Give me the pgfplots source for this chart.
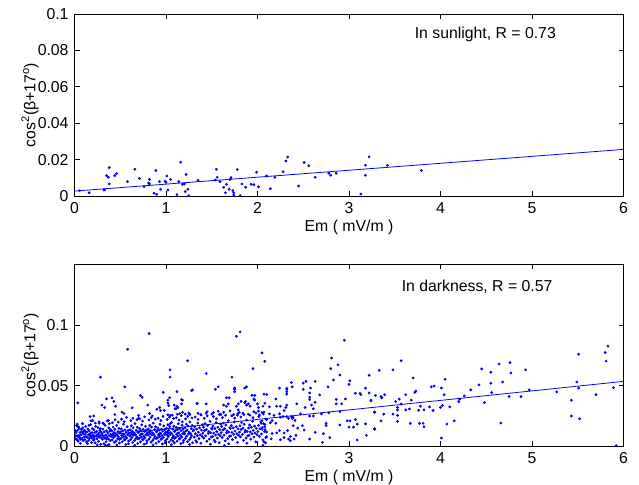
\documentclass[border=0pt]{standalone}
\usepackage{fontspec}
\setmainfont{Liberation Sans}
\usepackage{pgfplots}
\pgfplotsset{compat=1.18}
\begin{document}
\fontsize{15.8bp}{18bp}\selectfont
\begin{tikzpicture}
\useasboundingbox (0,0) rectangle (639bp,485bp);
\pgfplotsset{
  every axis/.append style={
    scale only axis, width=549bp, height=182bp,
    xmin=0, xmax=6, xtick={0,1,2,3,4,5,6},
    xticklabels={0,1,2,3,4,5,6},
    scaled x ticks=false, scaled y ticks=false,
    tick align=inside, major tick length=5bp,
    axis line style={line width=0.8bp},
    every tick/.style={line width=0.8bp, black},
    tick label style={font=\fontsize{15.8bp}{18bp}\selectfont},
    xticklabel style={yshift=-1bp},
    yticklabel style={xshift=-0.5bp},
    every axis x label/.style={at={(axis description cs:0.5,-0.195)}, anchor=base},
    every axis y label/.style={at={(axis description cs:-0.081,0.5)}, rotate=90, anchor=center},
    xlabel={Em ( mV/m )},
    ylabel={cos\textsuperscript{2}(β+17\textsuperscript{o})},
    clip=false,
  },
  dots/.style={only marks, mark=*, mark size=1.2bp, color=blue, mark options={draw=none, fill=blue}},
  fitline/.style={blue, line width=0.8bp, no marks},
}
% ---------------- top: sunlight ----------------
\begin{axis}[at={(74.5bp,289bp)}, anchor=south west,
  ymin=0, ymax=0.1, ytick={0,0.02,0.04,0.06,0.08,0.1},
  yticklabels={0,0.02,0.04,0.06,0.08,0.1}]
\addplot[dots] coordinates {
(0.055,0.0029)(0.16,0.0018)(0.32,0.0033)(0.33,0.0034)(0.35,0.0112)(0.37,0.0103)(0.38,0.0156)(0.38,0.0066)
(0.44,0.0112)(0.46,0.0123)(0.58,0.0079)(0.66,0.0147)(0.71,0.0097)(0.76,0.0052)(0.81,0.0072)(0.82,0.0066)
(0.82,0.0091)(0.87,0.0015)(0.89,0.0140)(0.90,0.0009)(0.94,0.0037)(0.93,0.0079)(1.00,0.0075)(0.99,0.0082)
(1.01,0.0110)(1.02,0.0033)(1.05,0.0091)(1.12,0.0007)(1.14,0.0079)(1.16,0.0186)(1.18,0.0064)(1.20,0.0066)
(1.22,0.0118)(1.21,0.0024)(1.24,0.0037)(1.25,0.0002)(1.35,0.0086)(1.54,0.0088)(1.55,0.0147)(1.56,0.0103)
(1.59,0.0079)(1.63,0.0048)(1.65,0.0018)(1.66,0.0064)(1.69,0.0037)(1.70,0.0091)(1.71,0.0101)(1.73,0.0030)
(1.74,0.0018)(1.74,0.0006)(1.78,0.0145)(1.81,0.0002)(1.83,0.0066)(1.87,0.0048)(1.93,0.0064)(1.96,0.0062)
(1.99,0.0131)(2.01,0.0050)(2.10,0.0110)(2.14,0.0040)(2.19,0.0103)(2.28,0.0133)(2.31,0.0192)(2.33,0.0214)
(2.45,0.0055)(2.51,0.0184)(2.56,0.0166)(2.63,0.0103)(2.78,0.0125)(2.80,0.0114)(2.86,0.0125)(3.13,0.0011)
(3.18,0.0169)(3.18,0.0114)(3.22,0.0215)(3.42,0.0168)(3.79,0.0140)
};
\addplot[fitline] coordinates {(0,0.0027)(6,0.0256)};
\node[anchor=center] at (axis cs:4.49,0.089) {In sunlight, R = 0.73};
\end{axis}
% ---------------- bottom: darkness ----------------
\begin{axis}[at={(74.5bp,38.7bp)}, anchor=south west,
  ymin=0, ymax=0.15, ytick={0,0.05,0.1},
  yticklabels={0,0.05,0.1}]
\addplot[dots] coordinates {
(0.012,0.0062)(0.018,0.0113)(0.023,0.0171)(0.031,0.0084)(0.034,0.0132)(0.041,0.0043)(0.045,0.0091)(0.052,0.0148)(0.056,0.0072)(0.061,0.0114)(0.064,0.0024)(0.071,0.0093)(0.075,0.0139)(0.083,0.0061)(0.086,0.0187)(0.092,0.0102)(0.095,0.0047)(0.098,0.0121)(0.008,0.0129)(0.044,0.0161)(0.067,0.0058)(0.081,0.0118)(0.027,0.0053)(0.089,0.0152)(0.015,0.0088)
(0.104,0.0077)(0.108,0.0132)(0.113,0.0055)(0.117,0.0101)(0.122,0.0163)(0.126,0.0082)(0.131,0.0036)(0.135,0.0118)(0.141,0.0071)(0.146,0.0142)(0.152,0.0095)(0.155,0.0049)(0.161,0.0127)(0.166,0.0066)(0.172,0.0104)(0.175,0.0179)(0.181,0.0085)(0.186,0.0031)(0.191,0.0113)(0.196,0.0145)(0.143,0.0022)(0.158,0.0172)(0.169,0.0091)(0.123,0.0119)(0.188,0.0068)
(0.203,0.0093)(0.207,0.0051)(0.212,0.0137)(0.216,0.0078)(0.221,0.0112)(0.226,0.0029)(0.231,0.0164)(0.236,0.0087)(0.241,0.0122)(0.245,0.0063)(0.251,0.0099)(0.256,0.0154)(0.262,0.0041)(0.266,0.0108)(0.271,0.0075)(0.276,0.0131)(0.281,0.0089)(0.286,0.0016)(0.291,0.0117)(0.296,0.0069)(0.228,0.0191)(0.248,0.0012)(0.268,0.0201)(0.283,0.0146)(0.214,0.0058)(0.259,0.0081)
(0.302,0.0104)(0.306,0.0058)(0.311,0.0141)(0.315,0.0083)(0.321,0.0021)(0.325,0.0119)(0.331,0.0067)(0.334,0.0173)(0.341,0.0092)(0.345,0.0038)(0.351,0.0128)(0.355,0.0076)(0.361,0.0005)(0.364,0.0111)(0.371,0.0059)(0.375,0.0152)(0.381,0.0087)(0.385,0.0124)(0.391,0.0046)(0.396,0.0098)(0.318,0.0186)(0.338,0.0009)(0.358,0.0209)(0.378,0.0014)(0.348,0.0063)(0.393,0.0137)
(0.403,0.0081)(0.408,0.0126)(0.412,0.0052)(0.417,0.0097)(0.422,0.0158)(0.427,0.0071)(0.431,0.0113)(0.436,0.0033)(0.441,0.0139)(0.446,0.0085)(0.452,0.0106)(0.456,0.0044)(0.461,0.0172)(0.466,0.0093)(0.471,0.0062)(0.475,0.0121)(0.481,0.0078)(0.486,0.0148)(0.491,0.0027)(0.496,0.0109)(0.414,0.0194)(0.444,0.0218)(0.463,0.0011)(0.478,0.0199)(0.425,0.0089)(0.488,0.0057)
(0.502,0.0118)(0.507,0.0064)(0.511,0.0143)(0.516,0.0089)(0.521,0.0037)(0.526,0.0126)(0.531,0.0075)(0.535,0.0182)(0.541,0.0099)(0.546,0.0052)(0.551,0.0135)(0.556,0.0081)(0.561,0.0014)(0.565,0.0117)(0.571,0.0068)(0.576,0.0161)(0.581,0.0094)(0.586,0.0131)(0.591,0.0043)(0.596,0.0108)(0.513,0.0224)(0.543,0.0203)(0.568,0.0238)(0.588,0.0021)(0.528,0.0097)(0.553,0.0058)
(0.603,0.0086)(0.608,0.0137)(0.612,0.0055)(0.617,0.0112)(0.622,0.0169)(0.627,0.0073)(0.632,0.0124)(0.636,0.0031)(0.641,0.0152)(0.646,0.0091)(0.651,0.0108)(0.656,0.0047)(0.662,0.0187)(0.666,0.0096)(0.671,0.0064)(0.676,0.0133)(0.681,0.0079)(0.686,0.0157)(0.691,0.0023)(0.696,0.0114)(0.615,0.0211)(0.638,0.0232)(0.658,0.0008)(0.683,0.0219)(0.624,0.0099)(0.693,0.0061)
(0.702,0.0121)(0.707,0.0067)(0.712,0.0146)(0.716,0.0092)(0.721,0.0036)(0.726,0.0129)(0.731,0.0077)(0.735,0.0176)(0.741,0.0103)(0.745,0.0054)(0.751,0.0139)(0.756,0.0084)(0.761,0.0017)(0.765,0.0122)(0.771,0.0071)(0.776,0.0164)(0.781,0.0096)(0.786,0.0134)(0.791,0.0045)(0.796,0.0111)(0.713,0.0227)(0.744,0.0208)(0.767,0.0243)(0.788,0.0026)(0.728,0.0101)(0.753,0.0059)
(0.803,0.0092)(0.807,0.0143)(0.812,0.0058)(0.817,0.0117)(0.822,0.0173)(0.826,0.0076)(0.831,0.0128)(0.836,0.0034)(0.841,0.0158)(0.846,0.0094)(0.851,0.0111)(0.856,0.0049)(0.861,0.0191)(0.866,0.0099)(0.871,0.0066)(0.876,0.0138)(0.881,0.0082)(0.886,0.0161)(0.891,0.0025)(0.896,0.0118)(0.814,0.0217)(0.838,0.0236)(0.858,0.0011)(0.883,0.0224)(0.824,0.0104)(0.893,0.0063)
(0.902,0.0126)(0.907,0.0069)(0.912,0.0151)(0.916,0.0095)(0.921,0.0039)(0.926,0.0133)(0.931,0.0081)(0.935,0.0181)(0.941,0.0107)(0.945,0.0057)(0.951,0.0142)(0.956,0.0088)(0.961,0.0019)(0.965,0.0125)(0.971,0.0074)(0.976,0.0168)(0.981,0.0099)(0.986,0.0137)(0.991,0.0047)(0.996,0.0114)(0.913,0.0231)(0.944,0.0212)(0.967,0.0247)(0.988,0.0028)(0.928,0.0104)(0.953,0.0062)
(1.002,0.0097)(1.006,0.0148)(1.011,0.0061)(1.015,0.0121)(1.021,0.0178)(1.025,0.0079)(1.031,0.0131)(1.034,0.0036)(1.041,0.0162)(1.045,0.0097)(1.051,0.0114)(1.055,0.0052)(1.061,0.0196)(1.065,0.0103)(1.071,0.0069)(1.075,0.0141)(1.081,0.0085)(1.085,0.0166)(1.091,0.0027)(1.095,0.0122)(1.013,0.0221)(1.038,0.0241)(1.058,0.0013)(1.083,0.0229)(1.023,0.0108)(1.093,0.0066)(1.047,0.0187)(1.068,0.0256)(1.078,0.0041)(1.017,0.0089)
(1.102,0.0131)(1.107,0.0073)(1.112,0.0156)(1.116,0.0099)(1.121,0.0042)(1.126,0.0138)(1.131,0.0084)(1.135,0.0186)(1.141,0.0111)(1.145,0.0059)(1.151,0.0147)(1.156,0.0091)(1.161,0.0022)(1.165,0.0129)(1.171,0.0077)(1.176,0.0173)(1.181,0.0103)(1.186,0.0142)(1.191,0.0049)(1.196,0.0118)(1.113,0.0236)(1.144,0.0217)(1.167,0.0252)(1.188,0.0031)(1.128,0.0108)(1.153,0.0066)(1.178,0.0201)(1.123,0.0264)
(1.203,0.0102)(1.207,0.0153)(1.212,0.0064)(1.217,0.0125)(1.222,0.0182)(1.226,0.0083)(1.231,0.0135)(1.236,0.0038)(1.241,0.0167)(1.246,0.0101)(1.251,0.0118)(1.256,0.0055)(1.261,0.0201)(1.266,0.0107)(1.271,0.0072)(1.276,0.0145)(1.281,0.0089)(1.286,0.0171)(1.291,0.0029)(1.296,0.0126)(1.214,0.0226)(1.238,0.0246)(1.258,0.0015)(1.283,0.0234)
(1.303,0.0136)(1.309,0.0076)(1.314,0.0161)(1.321,0.0104)(1.327,0.0046)(1.334,0.0142)(1.341,0.0088)(1.347,0.0191)(1.354,0.0116)(1.361,0.0063)(1.367,0.0152)(1.374,0.0095)(1.381,0.0025)(1.387,0.0133)(1.394,0.0081)(1.398,0.0178)(1.318,0.0241)(1.351,0.0222)(1.384,0.0258)(1.337,0.0034)
(1.403,0.0107)(1.409,0.0158)(1.414,0.0068)(1.421,0.0129)(1.427,0.0187)(1.434,0.0087)(1.441,0.0139)(1.447,0.0041)(1.454,0.0171)(1.461,0.0106)(1.467,0.0122)(1.474,0.0059)(1.481,0.0206)(1.487,0.0112)(1.494,0.0076)(1.498,0.0149)(1.418,0.0231)(1.451,0.0251)(1.484,0.0017)(1.438,0.0272)
(1.503,0.0141)(1.509,0.0081)(1.514,0.0166)(1.521,0.0109)(1.527,0.0051)(1.534,0.0147)(1.541,0.0093)(1.547,0.0196)(1.554,0.0121)(1.561,0.0068)(1.567,0.0157)(1.574,0.0099)(1.581,0.0029)(1.587,0.0138)(1.594,0.0086)(1.598,0.0183)(1.518,0.0246)(1.551,0.0227)(1.584,0.0263)(1.537,0.0038)
(1.603,0.0112)(1.609,0.0163)(1.614,0.0072)(1.621,0.0134)(1.627,0.0191)(1.634,0.0092)(1.641,0.0144)(1.647,0.0045)(1.654,0.0176)(1.661,0.0111)(1.667,0.0127)(1.674,0.0063)(1.681,0.0211)(1.687,0.0117)(1.694,0.0081)(1.698,0.0154)(1.618,0.0236)(1.651,0.0256)(1.684,0.0021)(1.638,0.0007)
(1.703,0.0146)(1.709,0.0086)(1.714,0.0171)(1.721,0.0114)(1.727,0.0055)(1.734,0.0152)(1.741,0.0098)(1.747,0.0201)(1.754,0.0126)(1.761,0.0072)(1.767,0.0162)(1.774,0.0104)(1.781,0.0033)(1.787,0.0143)(1.794,0.0091)(1.718,0.0251)(1.751,0.0232)(1.784,0.0268)
(1.803,0.0117)(1.809,0.0168)(1.814,0.0077)(1.821,0.0139)(1.827,0.0196)(1.834,0.0097)(1.841,0.0149)(1.847,0.0049)(1.854,0.0181)(1.861,0.0116)(1.867,0.0132)(1.874,0.0067)(1.881,0.0216)(1.887,0.0122)(1.894,0.0086)(1.818,0.0241)(1.851,0.0261)(1.884,0.0025)
(1.903,0.0151)(1.909,0.0091)(1.914,0.0176)(1.921,0.0119)(1.927,0.0059)(1.934,0.0157)(1.941,0.0103)(1.947,0.0206)(1.954,0.0131)(1.961,0.0076)(1.967,0.0167)(1.974,0.0109)(1.981,0.0037)(1.987,0.0148)(1.994,0.0096)(1.918,0.0256)(1.951,0.0237)(1.984,0.0273)
(2.003,0.0122)(2.011,0.0173)(2.019,0.0082)(2.027,0.0144)(2.035,0.0201)(2.043,0.0102)(2.051,0.0154)(2.059,0.0053)(2.067,0.0186)(2.075,0.0121)(2.083,0.0137)(2.091,0.0071)(2.099,0.0221)(2.015,0.0246)(2.063,0.0266)(2.087,0.0028)
(0.036,0.0358)(0.35,0.0391)(0.41,0.0400)(0.43,0.037)(0.30,0.0340)(0.33,0.0320)(0.52,0.0282)(0.54,0.0271)(0.44,0.0262)(0.97,0.0445)(1.02,0.0380)(1.02,0.0357)(1.03,0.0336)(0.72,0.0418)(0.74,0.0404)(0.80,0.0340)(0.63,0.0317)(0.82,0.0270)(0.85,0.0250)(0.94,0.0296)(0.98,0.0296)(0.18,0.0210)(0.20,0.0212)(0.09,0.0186)(0.03,0.0183)(0.03,0.0164)(0.27,0.0190)(0.31,0.0192)(0.37,0.0213)(0.38,0.0186)(0.70,0.0254)(0.70,0.0230)(0.17,0.0245)(0.21,0.0250)(0.45,0.0330)(0.90,0.0305)(0.93,0.0320)(1.10,0.0310)(1.12,0.0330)(1.17,0.0385)(1.18,0.0380)(1.28,0.0460)(1.34,0.0350)(1.44,0.0350)(1.63,0.0340)(1.66,0.0400)(1.66,0.0330)(1.75,0.0470)(1.75,0.0450)(1.79,0.0350)(1.82,0.0370)(1.90,0.0350)(1.92,0.0330)(1.97,0.0420)(2.01,0.0320)(2.06,0.0330)(1.04,0.0400)(1.12,0.0450)(1.09,0.0340)(1.11,0.0310)(1.13,0.0320)(1.17,0.0350)(1.34,0.0355)(1.68,0.0350)(1.69,0.0400)(1.77,0.0330)(1.79,0.0300)(1.80,0.0280)(1.86,0.0360)(1.87,0.0370)(1.88,0.0340)(1.94,0.0420)(1.96,0.0390)(1.97,0.0380)(2.00,0.0350)(2.01,0.0290)(2.07,0.0430)(1.02,0.0260)(1.05,0.0255)(1.15,0.0270)(1.18,0.0280)(1.21,0.0265)(1.25,0.0275)(1.26,0.0262)(1.35,0.0272)(1.38,0.0262)(1.45,0.0285)(1.50,0.0266)(1.52,0.0278)(1.57,0.0290)(1.60,0.0262)(1.63,0.0280)(1.70,0.0292)(1.74,0.0262)(1.78,0.0255)(1.84,0.0272)(1.90,0.0265)(1.96,0.0285)(2.02,0.0258)
(2.10,0.0426)(2.08,0.0355)(2.20,0.0390)(2.32,0.0470)(2.32,0.0450)(2.32,0.0430)(2.57,0.0440)(2.57,0.0405)(2.57,0.0385)(2.59,0.0340)(2.61,0.0310)(2.63,0.0363)(2.68,0.0423)(2.86,0.0387)(2.86,0.0350)(2.92,0.0350)(2.96,0.0390)(3.07,0.0437)(3.12,0.0437)(3.13,0.0426)(3.22,0.0440)(3.24,0.0375)(3.28,0.0282)(2.43,0.0350)(2.52,0.0320)(2.70,0.0267)(2.78,0.0276)(2.90,0.0286)(2.98,0.0210)(3.01,0.0210)(3.07,0.0220)(3.09,0.0183)(3.00,0.0158)(3.05,0.0158)(3.18,0.0185)(3.28,0.0140)(3.09,0.0052)(3.19,0.0090)(2.90,0.0175)(2.75,0.0190)(2.75,0.0172)(2.63,0.0115)(2.72,0.0104)(2.79,0.0071)(2.71,0.0033)(2.57,0.0250)(2.57,0.0060)(2.61,0.0250)(2.47,0.0267)(2.39,0.0240)(2.41,0.0213)(2.39,0.0170)(2.44,0.0150)(2.49,0.0170)(2.51,0.0134)(2.33,0.0130)(2.36,0.0080)(2.36,0.0046)(2.34,0.0060)(2.40,0.0060)(2.42,0.0090)(2.29,0.0110)(2.29,0.0071)(2.25,0.0054)(2.15,0.0062)(2.16,0.0105)(2.24,0.0130)(2.21,0.0110)(2.10,0.0118)(2.10,0.0079)(2.07,0.0038)(2.06,0.0008)(2.08,0.0180)(2.14,0.0194)(2.20,0.0190)(2.16,0.0213)(2.18,0.0255)(2.24,0.0267)(2.29,0.0295)(2.31,0.0320)(2.32,0.0340)(2.25,0.0330)(2.21,0.0330)(2.13,0.0325)(2.07,0.0282)(2.05,0.0278)(2.13,0.0267)(2.25,0.0240)(2.28,0.0245)(2.32,0.0245)(2.34,0.0230)(2.37,0.0245)(2.38,0.0230)(2.05,0.0210)(2.09,0.0225)(2.04,0.0190)(2.08,0.0160)(2.05,0.0140)
(0.285,0.057)(0.55,0.049)(0.58,0.080)(0.815,0.093)(1.045,0.063)(1.045,0.057)(1.236,0.0705)(1.44,0.060)(1.57,0.049)(1.54,0.047)(1.72,0.057)(1.75,0.048)(1.75,0.047)(1.77,0.0907)(1.81,0.0943)(1.86,0.048)(1.88,0.049)(1.95,0.064)(2.05,0.077)(2.08,0.070)(2.24,0.048)(2.32,0.0478)(2.37,0.0525)(2.38,0.049)(2.50,0.052)(2.53,0.0535)(2.58,0.048)(2.63,0.0535)(2.77,0.049)(2.80,0.064)(2.81,0.0727)(2.83,0.0547)(2.88,0.0672)(2.90,0.0588)(2.95,0.0874)(3.00,0.051)(3.01,0.054)(3.18,0.048)(3.22,0.0585)(2.50,0.047)(1.29,0.0465)
(3.33,0.0626)(3.29,0.042)(3.24,0.038)(3.28,0.028)(3.28,0.0145)(3.35,0.041)(3.36,0.040)(3.39,0.0425)(3.38,0.0265)(3.35,0.021)(3.48,0.063)(3.51,0.037)(3.48,0.0265)(3.53,0.032)(3.53,0.030)(3.53,0.0255)(3.53,0.0205)(3.55,0.0389)(3.57,0.0705)(3.57,0.0349)(3.62,0.030)(3.62,0.0425)(3.66,0.0308)(3.67,0.0189)(3.68,0.038)(3.70,0.0563)(3.72,0.0445)(3.73,0.0456)(3.76,0.0297)(3.77,0.0189)(3.81,0.0189)(3.82,0.016)(3.78,0.033)(3.82,0.030)(3.88,0.0325)(3.90,0.049)(3.93,0.0497)(3.92,0.0295)(4.00,0.032)(4.01,0.048)(4.02,0.0337)(4.04,0.0425)(4.05,0.0553)(4.01,0.0068)(4.07,0.0183)(4.10,0.0325)(4.15,0.021)(4.20,0.0368)(4.21,0.0389)(4.26,0.0415)(4.33,0.0465)(4.42,0.0506)(4.45,0.0638)(4.48,0.036)(4.55,0.061)(4.55,0.052)(4.56,0.0443)(4.64,0.0678)(4.66,0.0192)(4.68,0.053)(4.75,0.041)(4.76,0.069)(4.77,0.0604)(4.88,0.041)(4.93,0.063)(4.97,0.0465)(5.27,0.0448)(5.43,0.038)(5.43,0.025)(5.49,0.053)(5.51,0.0759)(5.51,0.048)(5.52,0.0227)(5.70,0.0426)(5.80,0.0773)(5.81,0.0702)(5.83,0.0825)(5.89,0.0483)(5.92,0.0005)
};
\addplot[fitline] coordinates {(0,0.0065)(6,0.0535)};
\node[anchor=center] at (axis cs:4.40,0.1316) {In darkness, R = 0.57};
\end{axis}
\end{tikzpicture}
\end{document}
